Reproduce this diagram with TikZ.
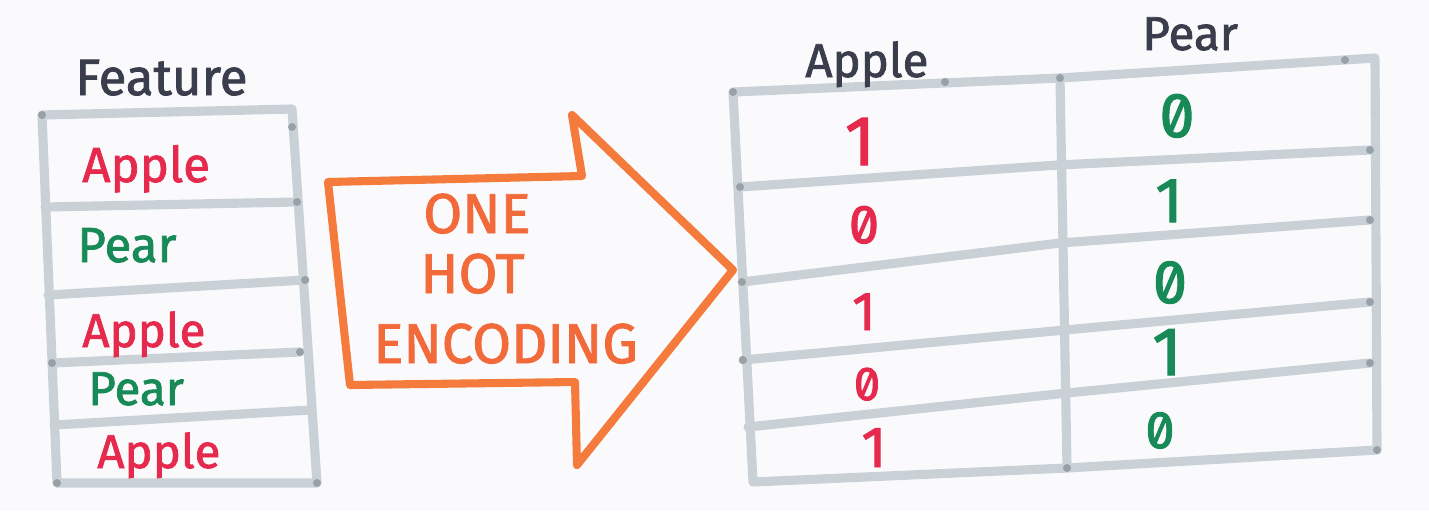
\documentclass[tikz,border=0pt]{standalone}
\usepackage{fontspec}
\setmainfont{Fira Sans}[FakeBold=1.6]
\newfontfamily\digitfont{Fira Sans}[Numbers=SlashedZero,FakeBold=1.6]
\definecolor{bgc}{HTML}{FAFAFC}
\definecolor{gridc}{HTML}{C9D1D6}
\definecolor{dotc}{HTML}{98A1A7}
\definecolor{redc}{HTML}{E62A4D}
\definecolor{greenc}{HTML}{178A57}
\definecolor{darkc}{HTML}{3A3D4C}
\definecolor{orangec}{HTML}{F57B3C}
\definecolor{orangetxt}{HTML}{F2693A}
\begin{document}
\begin{tikzpicture}[x=0.02cm,y=-0.02cm,
  gridline/.style={draw=gridc, line width=5.2pt, line cap=round, line join=round},
  arrowline/.style={draw=orangec, line width=4.6pt, line cap=round, line join=round},
  lbl/.style={anchor=base west, inner sep=0pt, font=\fontsize{#1}{#1}\selectfont},
  num/.style={anchor=base, inner sep=0pt, font=\digitfont\fontsize{#1}{#1}\selectfont},
  cornerdot/.style={fill=dotc}]
\useasboundingbox (0,0) rectangle (1429,511);
\fill[bgc] (0,0) rectangle (1429,511);

% ---------- left table ----------
\coordinate (la0) at (42,115);  \coordinate (lb0) at (292,109);
\coordinate (la1) at (45,207);  \coordinate (lb1) at (297,202);
\coordinate (la2) at (48,295);  \coordinate (lb2) at (305,280);
\coordinate (la3) at (52,363);  \coordinate (lb3) at (300,352);
\coordinate (la4) at (54,425);  \coordinate (lb4) at (310,410);
\coordinate (la5) at (57,483);  \coordinate (lb5) at (317,483);
\draw[gridline] (la0) -- (lb0) -- (lb5) -- (la5) -- cycle;
\foreach \i in {1,...,4} \draw[gridline] (la\i) -- (lb\i);
\foreach \c in {la0,lb1,lb2,la3,lb3,la5,lb5} \fill[cornerdot] (\c) circle (4);
\fill[cornerdot] (292,127) circle (4);

\node[lbl=29pt, text=darkc] (feature) at (75,95) {Feature};
\node[lbl=28pt, text=redc]   (f1) at (82,182) {Apple};
\node[lbl=28pt, text=greenc] (f2) at (77,262) {Pear};
\node[lbl=27pt, text=redc]   (f3) at (82,347) {Apple};
\node[lbl=27pt, text=greenc] (f4) at (88,405) {Pear};
\node[lbl=27pt, text=redc]   (f5) at (97,468) {Apple};

% ---------- arrow ----------
\coordinate (aA) at (328,182);
\coordinate (aB) at (582,176);
\coordinate (aC) at (572,115);
\coordinate (aD) at (733,270);
\coordinate (aE) at (577,465);
\coordinate (aF) at (575,382);
\coordinate (aG) at (350,385);
\draw[arrowline] (aA) -- (aB) -- (aC) -- (aD) -- (aE) -- (aF) -- (aG) -- cycle;
\node[lbl=32pt, text=orangetxt] (one) at (423,233) {ONE};
\node[lbl=32pt, text=orangetxt] (hot) at (420,293) {HOT};
\node[lbl=32pt, text=orangetxt] (enc) at (373,363) {ENCODING};

% ---------- right table ----------
\coordinate (ra0) at (733,92);  \coordinate (rm0) at (1060,78);  \coordinate (rb0) at (1375,58);
\coordinate (ra1) at (740,187); \coordinate (rm1) at (1058,165); \coordinate (rb1) at (1370,150);
\coordinate (ra2) at (742,282); \coordinate (rm2) at (1060,243); \coordinate (rb2) at (1370,220);
\coordinate (ra3) at (743,360); \coordinate (rm3) at (1065,330); \coordinate (rb3) at (1370,302);
\coordinate (ra4) at (748,427); \coordinate (rm4) at (1067,393); \coordinate (rb4) at (1370,363);
\coordinate (ra5) at (753,482); \coordinate (rm5) at (1067,468); \coordinate (rb5) at (1377,450);
\draw[gridline] (ra0) -- (rm0) -- (rb0) -- (rb5) -- (rm5) -- (ra5) -- cycle;
\draw[gridline] (rm0) -- (rm5);
\foreach \i in {1,...,4} \draw[gridline] (ra\i) -- (rm\i) -- (rb\i);
\foreach \c in {ra0,rm0,ra1,rb1,ra2,rb2,ra3,rb3,rb4,rm5,rb5} \fill[cornerdot] (\c) circle (4);
\fill[cornerdot] (1345,60) circle (4);
\fill[cornerdot] (945,82) circle (4);

\node[lbl=27pt, text=darkc] (happle) at (805,77) {Apple};
\node[lbl=27pt, text=darkc] (hpear)  at (1142,50) {Pear};

\node[num=40pt, text=redc] (a1) at (860,165) {1};
\node[num=31pt, text=redc] (a2) at (864,243) {0};
\node[num=31pt, text=redc] (a3) at (864,330) {1};
\node[num=27pt, text=redc] (a4) at (867,400) {0};
\node[num=33pt, text=redc] (a5) at (874,467) {1};

\node[num=36pt, text=greenc] (p1) at (1177,137) {0};
\node[num=36pt, text=greenc] (p2) at (1169,222) {1};
\node[num=35pt, text=greenc] (p3) at (1170,303) {0};
\node[num=39pt, text=greenc] (p4) at (1167,375) {1};
\node[num=30pt, text=greenc] (p5) at (1160,448) {0};
\end{tikzpicture}
\end{document}
